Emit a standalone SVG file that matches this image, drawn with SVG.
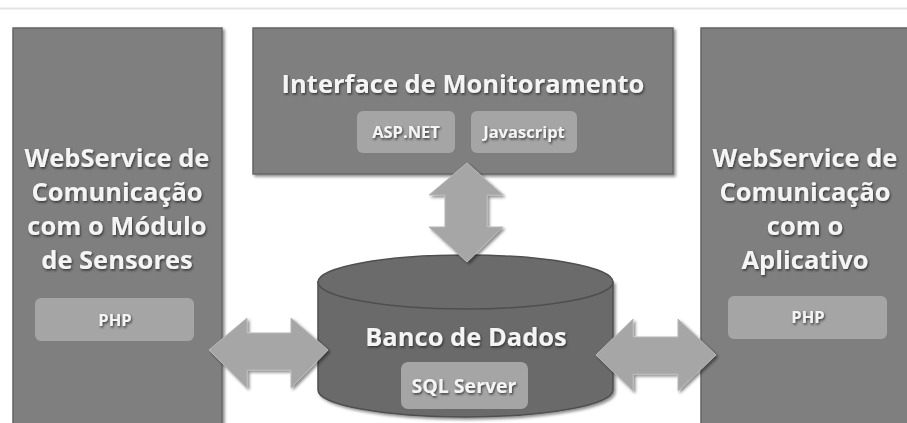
<svg xmlns="http://www.w3.org/2000/svg" width="907" height="423" viewBox="0 0 907 423">
<defs>
<filter id="sh" x="-10%" y="-10%" width="125%" height="125%">
<feDropShadow dx="2" dy="2" stdDeviation="1.5" flood-color="#000" flood-opacity="0.45"/>
</filter>
<filter id="tsh" x="-5%" y="-20%" width="115%" height="150%">
<feDropShadow dx="1" dy="1.5" stdDeviation="1" flood-color="#222" flood-opacity="0.8"/>
</filter>
<style>
.box{fill:#7f7f7f;stroke:#666;stroke-width:1.5;filter:url(#sh)}
.pill{fill:#a5a5a5}
.cyl{fill:#6b6b6b;stroke:#4f4f4f;stroke-width:1.5}
.arrow{fill:#a6a6a6;stroke:#b8b8b8;stroke-width:1;filter:url(#sh)}
.t{font-family:"Open Sans","Liberation Sans",sans-serif;font-weight:700;fill:#f4f4f4;text-anchor:middle;filter:url(#tsh)}
.big{font-size:25.5px}
.small{font-size:16.5px}
.sql{font-size:19.5px}
</style>
</defs>
<rect width="907" height="423" fill="#fff"/>
<line x1="0" y1="8.5" x2="907" y2="8.5" stroke="#e4e4e4" stroke-width="2"/>

<g id="ws-sensores">
<rect class="box" x="13" y="28" width="209" height="410"/>
<text class="t big" x="117" y="167">WebService de</text>
<text class="t big" x="117" y="201">Comunicação</text>
<text class="t big" x="117" y="235">com o Módulo</text>
<text class="t big" x="117" y="269">de Sensores</text>
<rect class="pill" x="35" y="298" width="159" height="43" rx="6"/>
<text class="t small" x="115" y="326">PHP</text>
</g>

<g id="interface">
<rect class="box" x="253" y="28" width="420" height="146"/>
<text class="t big" x="463" y="93">Interface de Monitoramento</text>
<rect class="pill" x="357" y="111" width="98" height="42" rx="6"/>
<text class="t small" x="406" y="138">ASP.NET</text>
<rect class="pill" x="471" y="111" width="106" height="42" rx="6"/>
<text class="t small" x="524" y="138">Javascript</text>
</g>

<g id="ws-aplicativo">
<rect class="box" x="701" y="28" width="220" height="410"/>
<text class="t big" x="805" y="167">WebService de</text>
<text class="t big" x="805" y="201">Comunicação</text>
<text class="t big" x="805" y="235">com o</text>
<text class="t big" x="805" y="269">Aplicativo</text>
<rect class="pill" x="728" y="296" width="159" height="43" rx="6"/>
<text class="t small" x="808" y="323">PHP</text>
</g>

<g id="banco">
<path class="cyl" d="M318,282 L318,390 A147.5,27 0 0 0 613,390 L613,282 Z" filter="url(#sh)"/>
<ellipse class="cyl" cx="465.5" cy="282" rx="147.5" ry="27"/>
<text class="t big" x="466" y="346">Banco de Dados</text>
<rect class="pill" x="401" y="362" width="127" height="47" rx="7"/>
<text class="t sql" x="464" y="393">SQL Server</text>
</g>

<g id="connectors">
<path class="arrow" d="M467,163 L503,195 L487,195 L487,227 L503,227 L467,262 L429,227 L445,227 L445,195 L429,195 Z"/>
<path class="arrow" d="M209,350 L247,318 L247,333 L291,333 L291,318 L328,350 L291,388 L291,370 L247,370 L247,388 Z"/>
<path class="arrow" d="M596,355 L633,319 L633,337 L678,337 L678,319 L716,355 L678,391 L678,374 L633,374 L633,391 Z"/>
</g>
</svg>
